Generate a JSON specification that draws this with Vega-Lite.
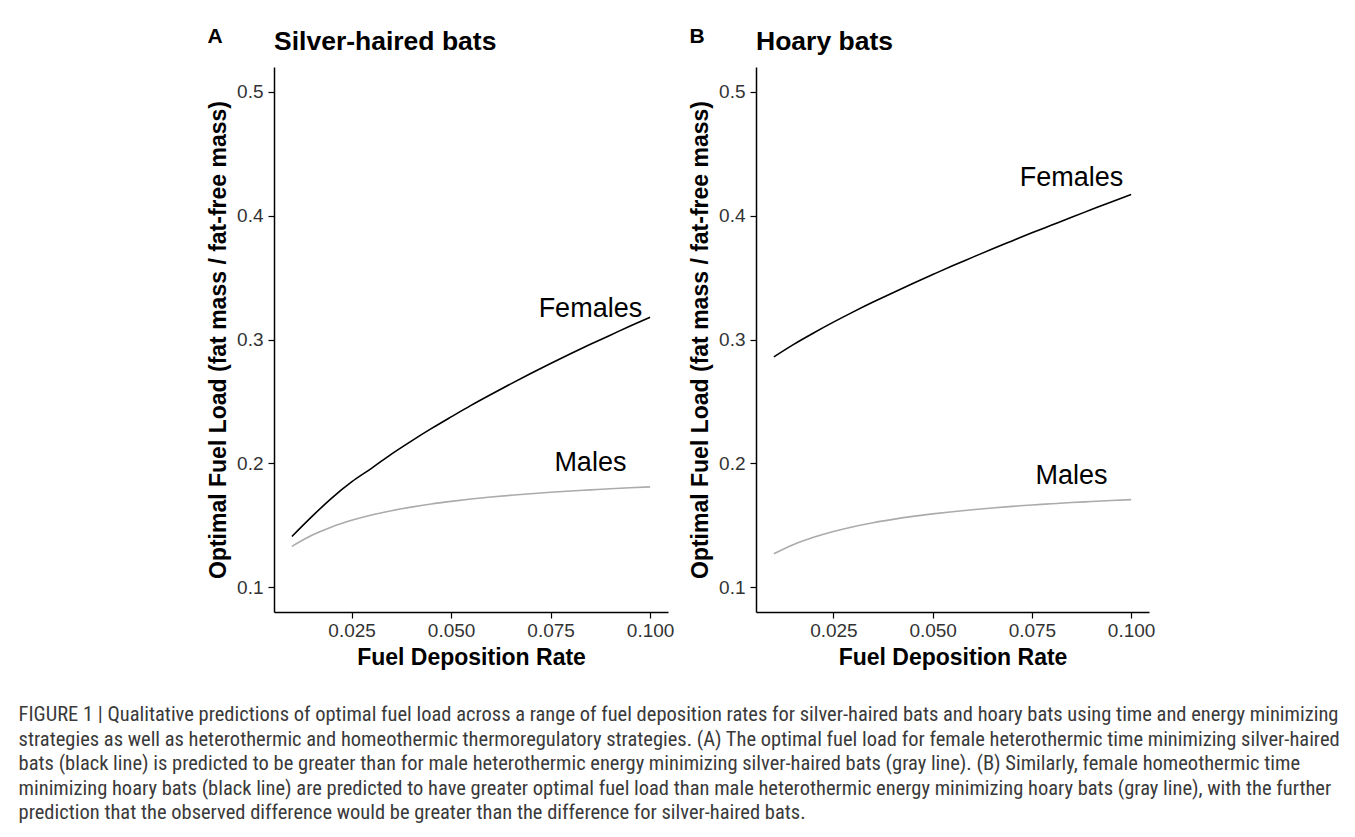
{
  "$schema": "https://vega.github.io/schema/vega-lite/v6.json",
  "background": "white",
  "padding": {"left": 18, "top": 25, "right": 5, "bottom": 5},
  "autosize": {"type": "pad"},
  "datasets": {
    "curves": [
      {"panel": "A", "sex": "Females", "x": 0.010, "y": 0.141},
      {"panel": "A", "sex": "Females", "x": 0.015, "y": 0.157},
      {"panel": "A", "sex": "Females", "x": 0.020, "y": 0.172},
      {"panel": "A", "sex": "Females", "x": 0.025, "y": 0.185},
      {"panel": "A", "sex": "Females", "x": 0.030, "y": 0.196},
      {"panel": "A", "sex": "Females", "x": 0.035, "y": 0.2075},
      {"panel": "A", "sex": "Females", "x": 0.040, "y": 0.218},
      {"panel": "A", "sex": "Females", "x": 0.045, "y": 0.228},
      {"panel": "A", "sex": "Females", "x": 0.050, "y": 0.2375},
      {"panel": "A", "sex": "Females", "x": 0.055, "y": 0.2468},
      {"panel": "A", "sex": "Females", "x": 0.060, "y": 0.2556},
      {"panel": "A", "sex": "Females", "x": 0.065, "y": 0.2642},
      {"panel": "A", "sex": "Females", "x": 0.070, "y": 0.2725},
      {"panel": "A", "sex": "Females", "x": 0.075, "y": 0.2806},
      {"panel": "A", "sex": "Females", "x": 0.080, "y": 0.2885},
      {"panel": "A", "sex": "Females", "x": 0.085, "y": 0.2961},
      {"panel": "A", "sex": "Females", "x": 0.090, "y": 0.3035},
      {"panel": "A", "sex": "Females", "x": 0.095, "y": 0.3109},
      {"panel": "A", "sex": "Females", "x": 0.100, "y": 0.318},
      {"panel": "A", "sex": "Males", "x": 0.010, "y": 0.133},
      {"panel": "A", "sex": "Males", "x": 0.015, "y": 0.1419},
      {"panel": "A", "sex": "Males", "x": 0.020, "y": 0.1487},
      {"panel": "A", "sex": "Males", "x": 0.025, "y": 0.154},
      {"panel": "A", "sex": "Males", "x": 0.030, "y": 0.1583},
      {"panel": "A", "sex": "Males", "x": 0.035, "y": 0.1618},
      {"panel": "A", "sex": "Males", "x": 0.040, "y": 0.1647},
      {"panel": "A", "sex": "Males", "x": 0.045, "y": 0.1672},
      {"panel": "A", "sex": "Males", "x": 0.050, "y": 0.1693},
      {"panel": "A", "sex": "Males", "x": 0.055, "y": 0.1712},
      {"panel": "A", "sex": "Males", "x": 0.060, "y": 0.1728},
      {"panel": "A", "sex": "Males", "x": 0.065, "y": 0.1742},
      {"panel": "A", "sex": "Males", "x": 0.070, "y": 0.1755},
      {"panel": "A", "sex": "Males", "x": 0.075, "y": 0.1767},
      {"panel": "A", "sex": "Males", "x": 0.080, "y": 0.1777},
      {"panel": "A", "sex": "Males", "x": 0.085, "y": 0.1786},
      {"panel": "A", "sex": "Males", "x": 0.090, "y": 0.1795},
      {"panel": "A", "sex": "Males", "x": 0.095, "y": 0.1803},
      {"panel": "A", "sex": "Males", "x": 0.100, "y": 0.181},
      {"panel": "B", "sex": "Females", "x": 0.010, "y": 0.286},
      {"panel": "B", "sex": "Females", "x": 0.015, "y": 0.2961},
      {"panel": "B", "sex": "Females", "x": 0.020, "y": 0.3053},
      {"panel": "B", "sex": "Females", "x": 0.025, "y": 0.314},
      {"panel": "B", "sex": "Females", "x": 0.030, "y": 0.3223},
      {"panel": "B", "sex": "Females", "x": 0.035, "y": 0.3302},
      {"panel": "B", "sex": "Females", "x": 0.040, "y": 0.3378},
      {"panel": "B", "sex": "Females", "x": 0.045, "y": 0.3452},
      {"panel": "B", "sex": "Females", "x": 0.050, "y": 0.3524},
      {"panel": "B", "sex": "Females", "x": 0.055, "y": 0.3595},
      {"panel": "B", "sex": "Females", "x": 0.060, "y": 0.3663},
      {"panel": "B", "sex": "Females", "x": 0.065, "y": 0.3731},
      {"panel": "B", "sex": "Females", "x": 0.070, "y": 0.3796},
      {"panel": "B", "sex": "Females", "x": 0.075, "y": 0.3861},
      {"panel": "B", "sex": "Females", "x": 0.080, "y": 0.3924},
      {"panel": "B", "sex": "Females", "x": 0.085, "y": 0.3987},
      {"panel": "B", "sex": "Females", "x": 0.090, "y": 0.4049},
      {"panel": "B", "sex": "Females", "x": 0.095, "y": 0.4111},
      {"panel": "B", "sex": "Females", "x": 0.100, "y": 0.417},
      {"panel": "B", "sex": "Males", "x": 0.010, "y": 0.127},
      {"panel": "B", "sex": "Males", "x": 0.015, "y": 0.1345},
      {"panel": "B", "sex": "Males", "x": 0.020, "y": 0.1403},
      {"panel": "B", "sex": "Males", "x": 0.025, "y": 0.145},
      {"panel": "B", "sex": "Males", "x": 0.030, "y": 0.1489},
      {"panel": "B", "sex": "Males", "x": 0.035, "y": 0.1521},
      {"panel": "B", "sex": "Males", "x": 0.040, "y": 0.1548},
      {"panel": "B", "sex": "Males", "x": 0.045, "y": 0.1572},
      {"panel": "B", "sex": "Males", "x": 0.050, "y": 0.1592},
      {"panel": "B", "sex": "Males", "x": 0.055, "y": 0.161},
      {"panel": "B", "sex": "Males", "x": 0.060, "y": 0.1626},
      {"panel": "B", "sex": "Males", "x": 0.065, "y": 0.164},
      {"panel": "B", "sex": "Males", "x": 0.070, "y": 0.1653},
      {"panel": "B", "sex": "Males", "x": 0.075, "y": 0.1664},
      {"panel": "B", "sex": "Males", "x": 0.080, "y": 0.1674},
      {"panel": "B", "sex": "Males", "x": 0.085, "y": 0.1684},
      {"panel": "B", "sex": "Males", "x": 0.090, "y": 0.1692},
      {"panel": "B", "sex": "Males", "x": 0.095, "y": 0.17},
      {"panel": "B", "sex": "Males", "x": 0.100, "y": 0.1707}
    ],
    "labels": [
      {"panel": "A", "label": "Females", "x": 0.085, "y": 0.325},
      {"panel": "A", "label": "Males", "x": 0.085, "y": 0.2},
      {"panel": "B", "label": "Females", "x": 0.085, "y": 0.43},
      {"panel": "B", "label": "Males", "x": 0.085, "y": 0.19}
    ]
  },
  "title": {
    "text": [
      "FIGURE 1 | Qualitative predictions of optimal fuel load across a range of fuel deposition rates for silver-haired bats and hoary bats using time and energy minimizing",
      "strategies as well as heterothermic and homeothermic thermoregulatory strategies. (A) The optimal fuel load for female heterothermic time minimizing silver-haired",
      "bats (black line) is predicted to be greater than for male heterothermic energy minimizing silver-haired bats (gray line). (B) Similarly, female homeothermic time",
      "minimizing hoary bats (black line) are predicted to have greater optimal fuel load than male heterothermic energy minimizing hoary bats (gray line), with the further",
      "prediction that the observed difference would be greater than the difference for silver-haired bats."
    ],
    "orient": "bottom",
    "anchor": "start",
    "frame": "bounds",
    "dx": -189,
    "offset": 36,
    "font": "Liberation Sans Narrow, Roboto Condensed, DejaVu Sans Condensed, Liberation Sans",
    "fontSize": 20.5,
    "fontWeight": "normal",
    "color": "#3a3a3a",
    "lineHeight": 24.5
  },
  "spacing": 15,
  "hconcat": [
    {
      "title": {"text": "A", "anchor": "start", "frame": "bounds", "fontSize": 21, "fontWeight": "bold", "offset": 0, "dy": 18, "color": "black"},
      "hconcat": [
        {
          "title": {"text": "Silver-haired bats", "anchor": "start", "frame": "group", "fontSize": 26.5, "fontWeight": "bold", "offset": 12, "color": "black"},
          "width": 394,
          "height": 545,
          "layer": [
            {
              "data": {"name": "curves"},
              "transform": [{"filter": "datum.panel === 'A'"}],
              "mark": {"type": "line", "strokeWidth": 1.6, "interpolate": "monotone"},
              "encoding": {
                "x": {"field": "x", "type": "quantitative", "scale": {"domain": [0.0055, 0.1045], "nice": false, "zero": false}, "axis": {"values": [0.025, 0.05, 0.075, 0.1], "format": ".3f", "title": "Fuel Deposition Rate", "labelPadding": 3}},
                "y": {"field": "y", "type": "quantitative", "scale": {"domain": [0.08, 0.52], "nice": false, "zero": false}, "axis": {"values": [0.1, 0.2, 0.3, 0.4, 0.5], "format": ".1f", "title": "Optimal Fuel Load (fat mass / fat-free mass)", "labelPadding": 5}},
                "color": {"field": "sex", "type": "nominal", "scale": {"domain": ["Females", "Males"], "range": ["#000000", "#ababab"]}, "legend": null}
              }
            },
            {
              "data": {"name": "labels"},
              "transform": [{"filter": "datum.panel === 'A'"}],
              "mark": {"type": "text", "fontSize": 27, "align": "center", "baseline": "middle", "color": "black"},
              "encoding": {
                "x": {"field": "x", "type": "quantitative"},
                "y": {"field": "y", "type": "quantitative"},
                "text": {"field": "label"}
              }
            }
          ]
        }
      ]
    },
    {
      "title": {"text": "B", "anchor": "start", "frame": "bounds", "fontSize": 21, "fontWeight": "bold", "offset": 0, "dy": 18, "color": "black"},
      "hconcat": [
        {
          "title": {"text": "Hoary bats", "anchor": "start", "frame": "group", "fontSize": 26.5, "fontWeight": "bold", "offset": 12, "color": "black"},
          "width": 393,
          "height": 545,
          "layer": [
            {
              "data": {"name": "curves"},
              "transform": [{"filter": "datum.panel === 'B'"}],
              "mark": {"type": "line", "strokeWidth": 1.6, "interpolate": "monotone"},
              "encoding": {
                "x": {"field": "x", "type": "quantitative", "scale": {"domain": [0.0055, 0.1045], "nice": false, "zero": false}, "axis": {"values": [0.025, 0.05, 0.075, 0.1], "format": ".3f", "title": "Fuel Deposition Rate", "labelPadding": 3}},
                "y": {"field": "y", "type": "quantitative", "scale": {"domain": [0.08, 0.52], "nice": false, "zero": false}, "axis": {"values": [0.1, 0.2, 0.3, 0.4, 0.5], "format": ".1f", "title": "Optimal Fuel Load (fat mass / fat-free mass)", "labelPadding": 5}},
                "color": {"field": "sex", "type": "nominal", "scale": {"domain": ["Females", "Males"], "range": ["#000000", "#ababab"]}, "legend": null}
              }
            },
            {
              "data": {"name": "labels"},
              "transform": [{"filter": "datum.panel === 'B'"}],
              "mark": {"type": "text", "fontSize": 27, "align": "center", "baseline": "middle", "color": "black"},
              "encoding": {
                "x": {"field": "x", "type": "quantitative"},
                "y": {"field": "y", "type": "quantitative"},
                "text": {"field": "label"}
              }
            }
          ]
        }
      ]
    }
  ],
  "config": {
    "font": "Liberation Sans",
    "view": {"stroke": null},
    "axis": {
      "grid": false,
      "domainColor": "black",
      "domainWidth": 1.5,
      "tickColor": "black",
      "tickWidth": 1.2,
      "tickSize": 6,
      "labelFont": "Liberation Sans",
      "labelFontSize": 19,
      "labelColor": "#333333",
      "labelFlush": false,
      "labelOverlap": false,
      "titleFont": "Liberation Sans",
      "titleFontSize": 23,
      "titleFontWeight": "bold",
      "titleColor": "black",
      "titlePadding": 6
    },
    "title": {"font": "Liberation Sans"}
  }
}
